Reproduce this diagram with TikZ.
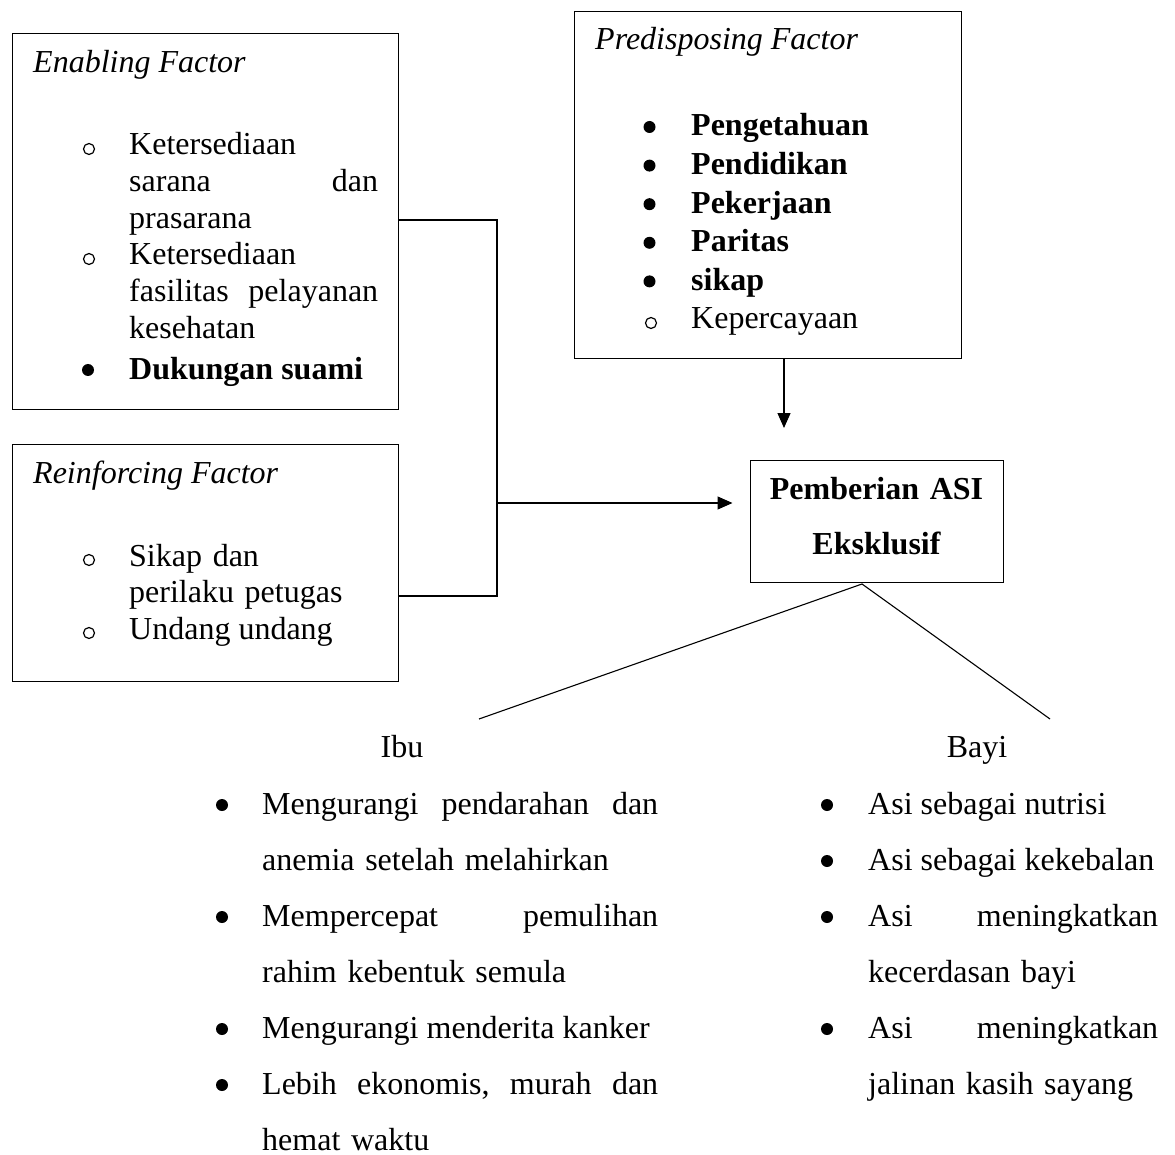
\documentclass[tikz,border=0pt]{standalone}
\usepackage{fontspec}
\setmainfont{Liberation Serif}
\usetikzlibrary{arrows.meta}
\newcommand\fs{\fontsize{32pt}{36.7pt}\selectfont}
\newcommand\fsb{\fontsize{32pt}{56pt}\selectfont}
\begin{document}
\begin{tikzpicture}[x=1pt,y=-1pt,
  box/.style={draw, line width=1.2pt, inner sep=0, anchor=north west},
  txt/.style={inner sep=0, anchor=base west, font=\fs},
  head/.style={inner sep=0, anchor=base west, font=\fs\itshape},
  hol/.style={circle, draw, line width=1.2pt, inner sep=0, minimum size=11pt, yshift=6pt},
  sol/.style={circle, fill, inner sep=0, minimum size=12pt, yshift=9pt},
  conn/.style={line width=1.2pt},
  arr/.style={line width=1.2pt, -{Triangle[length=15pt,width=13pt]}}]
\useasboundingbox (0,0) rectangle (1175,1155);

% boxes
\node[box, minimum width=386pt, minimum height=376pt] (enb) at (12,33) {};
\node[box, minimum width=386pt, minimum height=237pt] (rein) at (12,444) {};
\node[box, minimum width=387pt, minimum height=347pt] (pred) at (574,11) {};
\node[box, minimum width=253pt, minimum height=122pt] (asi) at (750,460) {};

% Enabling factor
\node[head] (enh) at (33,73) {Enabling Factor};
\node[hol] (eb1) at (89,155) {};
\node[txt, text width=249pt] (et1) at (129,155) {Ketersediaan\\sarana\hfill dan\\prasarana};
\node[hol] (eb2) at (89,265) {};
\node[txt, text width=249pt] (et2) at (129,265) {Ketersediaan\\fasilitas\hfill pelayanan\\kesehatan};
\node[sol] (eb3) at (88,379) {};
\node[txt, font=\fs\bfseries] (et3) at (129,379) {Dukungan suami};

% Reinforcing factor
\node[head] (reh) at (33,483) {Reinforcing Factor};
\node[hol] (rb1) at (89,566) {};
\node[txt, text width=249pt] (rt1) at (129,566) {Sikap dan\\perilaku petugas};
\node[hol] (rb2) at (89,639) {};
\node[txt] (rt2) at (129,639) {Undang undang};

% Predisposing factor
\node[head] (prh) at (595,50) {Predisposing Factor};
\node[sol] (pb1) at (649.5,136) {};
\node[txt, font=\fs\bfseries] (pt1) at (691,136) {Pengetahuan};
\node[sol] (pb2) at (649.5,174.6) {};
\node[txt, font=\fs\bfseries] (pt2) at (691,174.6) {Pendidikan};
\node[sol] (pb3) at (649.5,213.2) {};
\node[txt, font=\fs\bfseries] (pt3) at (691,213.2) {Pekerjaan};
\node[sol] (pb4) at (649.5,251.8) {};
\node[txt, font=\fs\bfseries] (pt4) at (691,251.8) {Paritas};
\node[sol] (pb5) at (649.5,290.4) {};
\node[txt, font=\fs\bfseries] (pt5) at (691,290.4) {sikap};
\node[hol] (pb6) at (651,329) {};
\node[txt] (pt6) at (691,329) {Kepercayaan};

% ASI box text
\node[inner sep=0, anchor=base, text width=253pt, align=center,
      font=\fontsize{32pt}{55pt}\selectfont\bfseries] (asit) at (876.5,499) {Pemberian ASI\\Eksklusif};

% connectors
\coordinate (j1) at (497,220);
\coordinate (j2) at (497,596);
\coordinate (j3) at (497,503);
\draw[conn] (enb.east |- j1) -- (j1) -- (j2) -- (rein.east |- j2);
\draw[arr, shorten >=17.5pt] (j3) -- (asi.west |- j3);
\coordinate (a1) at (784,428);
\draw[arr] (pred.south -| a1) -- (a1);
\coordinate (apex) at (862,584);
\coordinate (ibuT) at (479,719);
\coordinate (bayiT) at (1050,719);
\draw[conn, line width=1.1pt] (ibuT) -- (apex) -- (bayiT);

% Ibu / Bayi
\node[inner sep=0, anchor=base, font=\fs] (ibu) at (402,757) {Ibu};
\node[inner sep=0, anchor=base, font=\fs] (bayi) at (977,757) {Bayi};

% Ibu list
\node[sol] (ib1) at (222,814) {};
\node[txt, font=\fsb, text width=396pt] (it1) at (262,814) {Mengurangi\hfill pendarahan\hfill dan\\anemia setelah melahirkan};
\node[sol] (ib2) at (222,926) {};
\node[txt, font=\fsb, text width=396pt] (it2) at (262,926) {Mempercepat\hfill pemulihan\\rahim kebentuk semula};
\node[sol] (ib3) at (222,1038) {};
\node[txt, font=\fsb] (it3) at (262,1038) {Mengurangi menderita kanker};
\node[sol] (ib4) at (222,1094) {};
\node[txt, font=\fsb, text width=396pt] (it4) at (262,1094) {Lebih\hfill ekonomis,\hfill murah\hfill dan\\hemat waktu};

% Bayi list
\node[sol] (bb1) at (827,814) {};
\node[txt, font=\fsb] (bt1) at (868,814) {Asi sebagai nutrisi};
\node[sol] (bb2) at (827,870) {};
\node[txt, font=\fsb] (bt2) at (868,870) {Asi sebagai kekebalan};
\node[sol] (bb3) at (827,926) {};
\node[txt, font=\fsb, text width=290pt] (bt3) at (868,926) {Asi\hfill meningkatkan\\kecerdasan bayi};
\node[sol] (bb4) at (827,1038) {};
\node[txt, font=\fsb, text width=290pt] (bt4) at (868,1038) {Asi\hfill meningkatkan\\jalinan kasih sayang};
\end{tikzpicture}
\end{document}
